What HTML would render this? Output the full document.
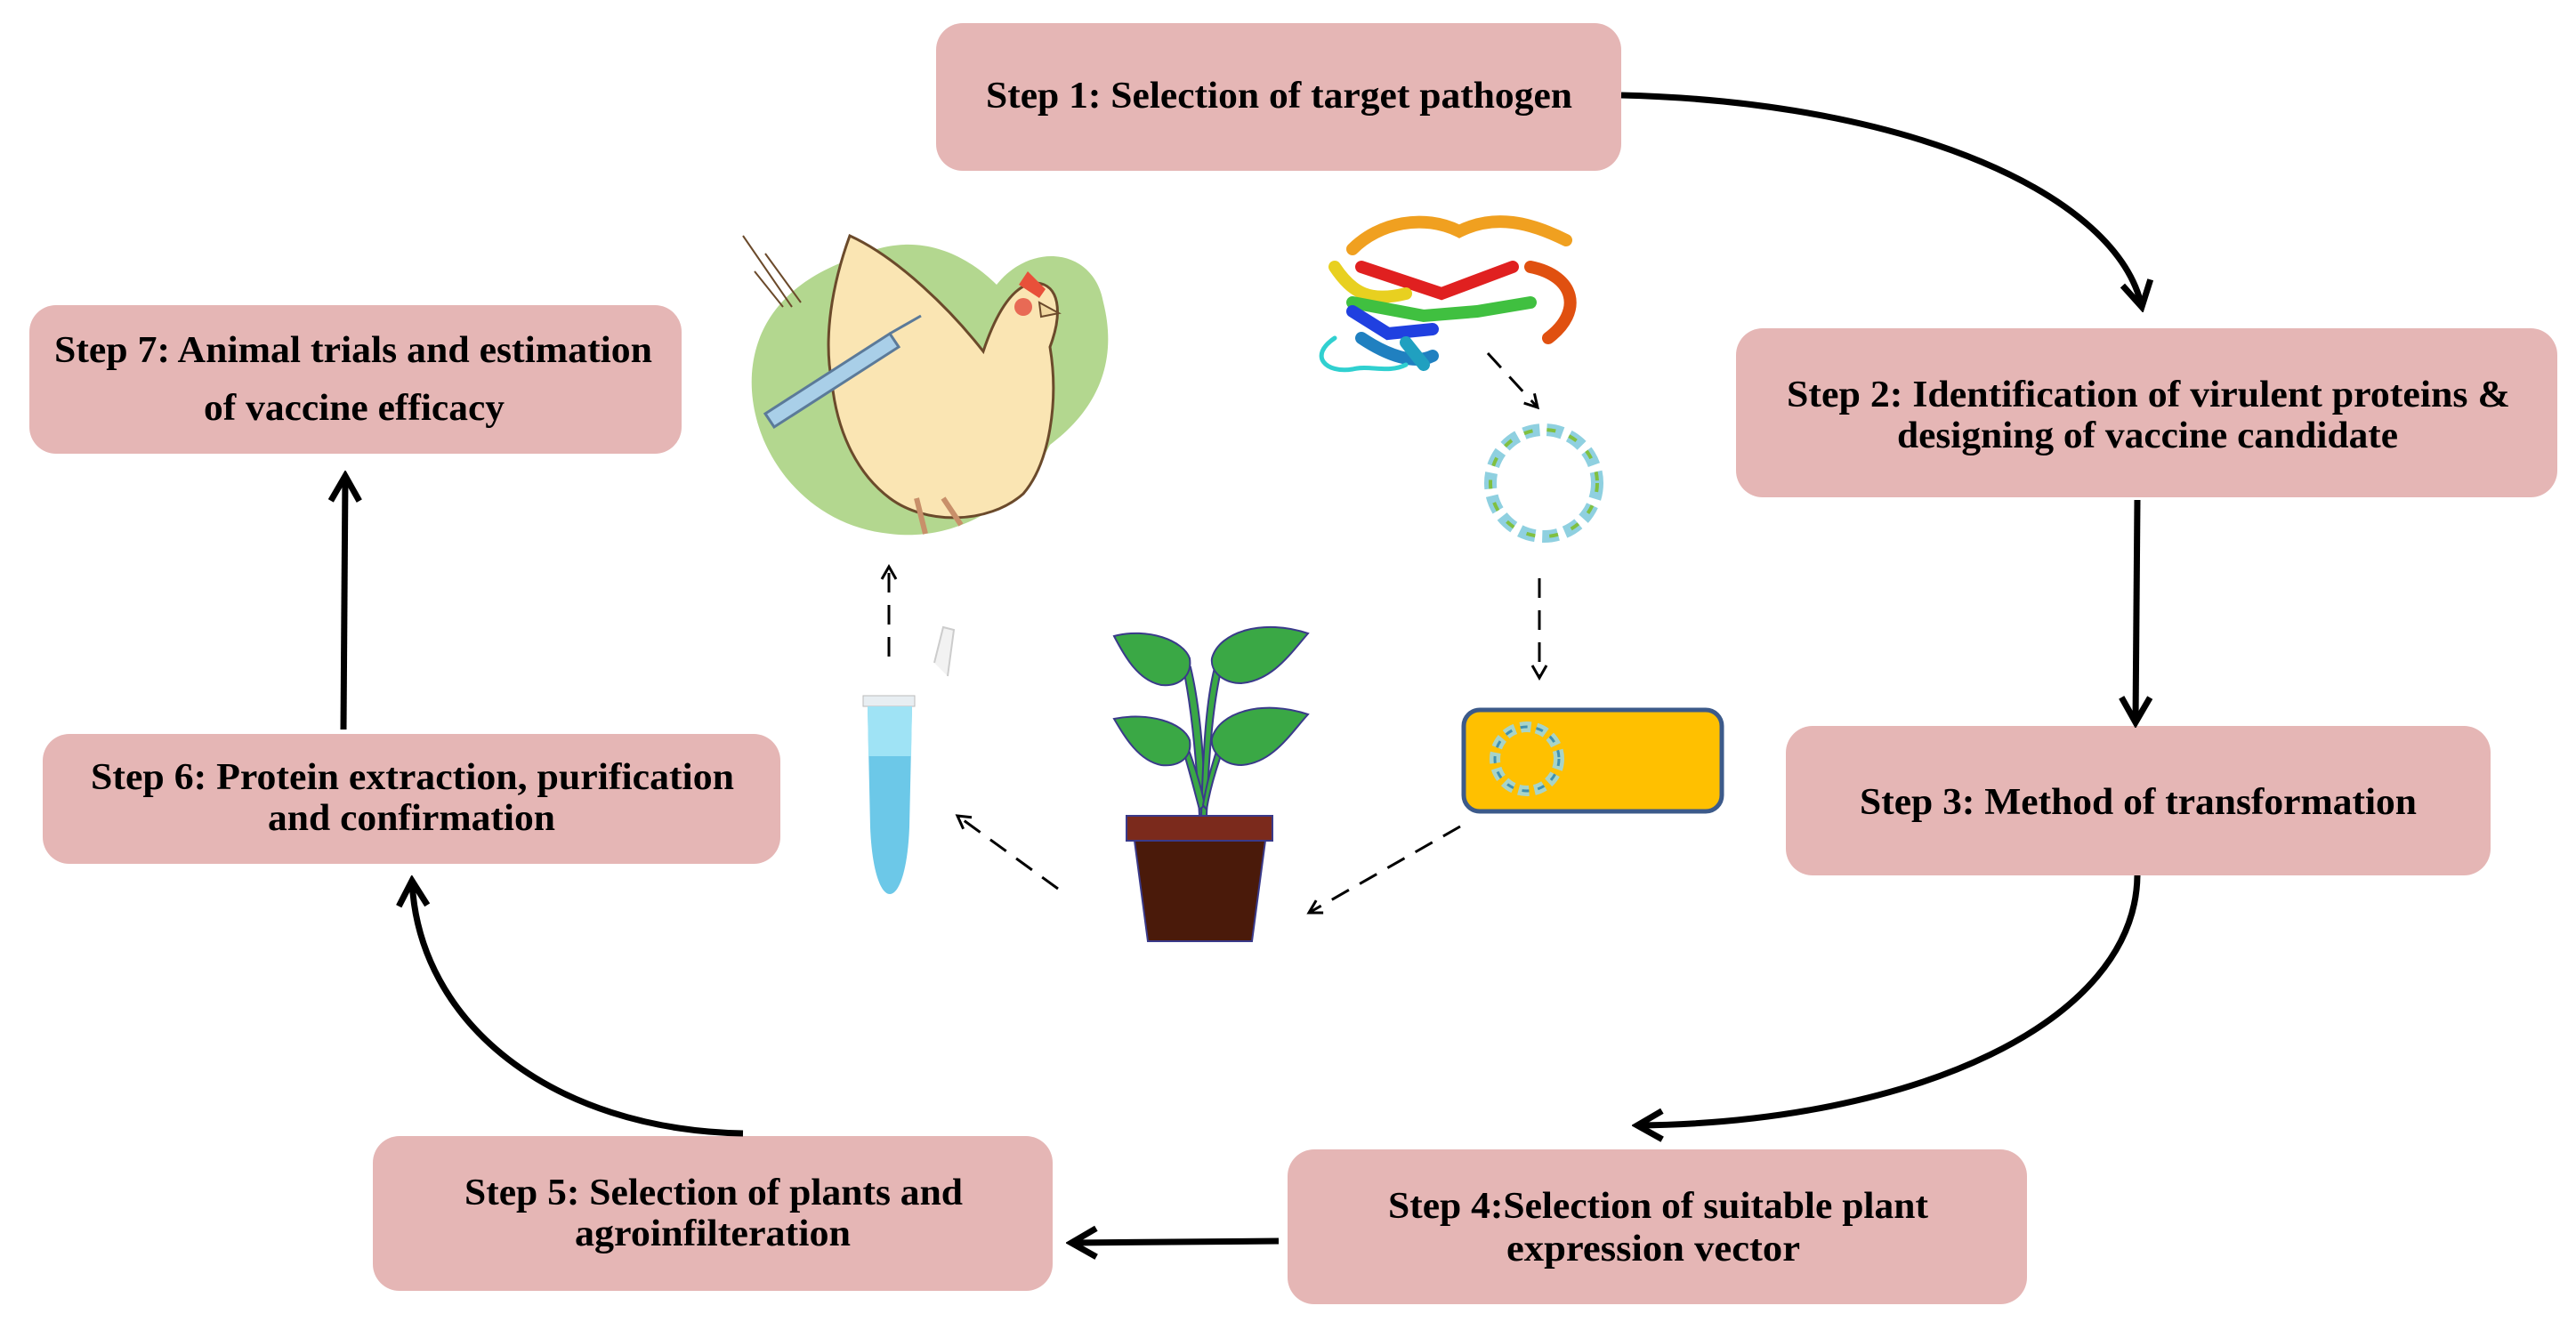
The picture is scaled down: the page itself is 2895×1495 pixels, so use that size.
<!DOCTYPE html>
<html><head><meta charset="utf-8"><style>
html,body{margin:0;padding:0;background:#fff;}
svg{display:block;}
text{font-family:"Liberation Serif",serif;font-weight:bold;font-size:42px;fill:#000;}
</style></head><body>
<svg width="2895" height="1495" viewBox="0 0 2895 1495" xmlns="http://www.w3.org/2000/svg">
<defs>
<marker id="ah" viewBox="0 0 20 20" refX="16" refY="10" markerWidth="20" markerHeight="20" markerUnits="userSpaceOnUse" orient="auto">
<path d="M2,2 L16,10 L2,18" fill="none" stroke="#000" stroke-width="3"/></marker>
<marker id="AH" viewBox="0 0 40 40" refX="34" refY="20" markerWidth="40" markerHeight="40" markerUnits="userSpaceOnUse" orient="auto">
<path d="M6,4 L34,20 L6,36" fill="none" stroke="#000" stroke-width="7"/></marker>
</defs>

<g fill="#e5b6b5">
<rect x="1052" y="26" width="770" height="166" rx="30"/>
<rect x="1951" y="369" width="923" height="190" rx="30"/>
<rect x="2007" y="816" width="792" height="168" rx="30"/>
<rect x="1447" y="1292" width="831" height="174" rx="30"/>
<rect x="419" y="1277" width="764" height="174" rx="30"/>
<rect x="48" y="825" width="829" height="146" rx="30"/>
<rect x="33" y="343" width="733" height="167" rx="30"/>
</g>

<text x="1108" y="121" textLength="659" lengthAdjust="spacingAndGlyphs">Step 1: Selection of target pathogen</text>
<text x="2008" y="457" textLength="813" lengthAdjust="spacingAndGlyphs">Step 2: Identification of virulent proteins &amp;</text>
<text x="2132" y="503" textLength="563" lengthAdjust="spacingAndGlyphs">designing of vaccine candidate</text>
<text x="2090" y="915" textLength="626" lengthAdjust="spacingAndGlyphs">Step 3: Method of transformation</text>
<text x="1560" y="1369" textLength="607" lengthAdjust="spacingAndGlyphs">Step 4:Selection of suitable plant</text>
<text x="1693" y="1417" textLength="330" lengthAdjust="spacingAndGlyphs">expression vector</text>
<text x="522" y="1354" textLength="560" lengthAdjust="spacingAndGlyphs">Step 5: Selection of plants and</text>
<text x="646" y="1400" textLength="310" lengthAdjust="spacingAndGlyphs">agroinfilteration</text>
<text x="102" y="887" textLength="723" lengthAdjust="spacingAndGlyphs">Step 6: Protein extraction, purification</text>
<text x="301" y="933" textLength="323" lengthAdjust="spacingAndGlyphs">and confirmation</text>
<text x="61" y="407" textLength="672" lengthAdjust="spacingAndGlyphs">Step 7: Animal trials and estimation</text>
<text x="229" y="472" textLength="338" lengthAdjust="spacingAndGlyphs">of vaccine efficacy</text>

<g fill="none" stroke="#000" stroke-width="7">
<path d="M1822,107 C2150,115 2380,220 2407,345" marker-end="url(#AH)"/>
<path d="M2402,562 L2400,812" marker-end="url(#AH)"/>
<path d="M2402,984 C2400,1150 2150,1262 1840,1265" marker-end="url(#AH)"/>
<path d="M1437,1395 L1204,1397" marker-end="url(#AH)"/>
<path d="M835,1274 C620,1270 470,1150 463,990" marker-end="url(#AH)"/>
<path d="M386,820 L388,535" marker-end="url(#AH)"/>
</g>

<g fill="none" stroke="#000" stroke-width="3" stroke-dasharray="22,14">
<path d="M1672,397 L1728,458" marker-end="url(#ah)"/>
<path d="M1730,650 L1730,762" marker-end="url(#ah)"/>
<path d="M1641,929 L1471,1026" marker-end="url(#ah)"/>
<path d="M1189,999 L1076,917" marker-end="url(#ah)"/>
<path d="M999,738 L999,637" marker-end="url(#ah)"/>
</g>

<!-- chicken -->
<g>
<path d="M960,290 C1040,250 1100,300 1120,320 C1160,270 1230,280 1240,340 C1260,420 1220,470 1180,500 C1150,560 1080,610 1000,600 C900,590 840,500 845,420 C850,350 900,310 960,290Z" fill="#b3d78f"/>
<path d="M955,265 C1010,290 1070,350 1105,395 C1120,350 1140,318 1165,318 C1190,320 1195,350 1180,390 C1190,450 1180,520 1150,555 C1110,590 1040,590 1000,560 C960,530 940,480 935,430 C925,380 935,320 955,265Z" fill="#fae5b3" stroke="#6b4a2b" stroke-width="3"/>
<path d="M1145,320 L1155,305 L1165,315 L1175,325 L1168,335Z" fill="#e8503a"/>
<circle cx="1150" cy="345" r="10" fill="#e86a55"/>
<path d="M1168,340 L1190,352 L1170,356Z" fill="#f1d8a0" stroke="#6b4a2b" stroke-width="2"/>
<path d="M1030,560 L1040,600 M1060,560 L1080,590" stroke="#c8906a" stroke-width="6" fill="none"/>
<path d="M860,465 L1000,375 L1010,390 L870,480Z" fill="#a9cfe8" stroke="#5b7a99" stroke-width="3"/>
<path d="M1000,375 L1035,355" stroke="#5b7a99" stroke-width="3"/>
<path d="M835,265 L890,345 M860,285 L900,340 M848,305 L880,345" stroke="#6b4a2b" stroke-width="2"/>
</g>

<g fill="none" stroke-width="14" stroke-linecap="round">
<path d="M1520,280 C1550,250 1600,240 1640,260 C1680,240 1720,250 1760,270" stroke="#f0a020"/>
<path d="M1530,300 L1620,330 L1700,300" stroke="#e02020"/>
<path d="M1500,300 C1520,330 1540,340 1580,330" stroke="#e8d020"/>
<path d="M1520,340 L1600,355 L1660,350 L1720,340" stroke="#40c040"/>
<path d="M1520,350 L1560,375 L1610,370" stroke="#2040e0"/>
<path d="M1720,300 C1770,310 1780,350 1740,380" stroke="#e05010"/>
<path d="M1530,380 C1560,400 1590,410 1610,400" stroke="#2080c0"/>
<path d="M1500,380 C1470,400 1490,420 1520,415 C1540,410 1560,420 1580,410" stroke="#30d0d0" stroke-width="5"/>
<path d="M1580,385 L1600,410" stroke="#20a0c0"/>
</g>

<circle cx="1735" cy="543" r="60" fill="none" stroke="#8fd0e0" stroke-width="14" stroke-dasharray="18,8"/>
<circle cx="1735" cy="543" r="60" fill="none" stroke="#80c040" stroke-width="4" stroke-dasharray="10,16"/>

<rect x="1645" y="798" width="290" height="114" rx="18" fill="#ffc000" stroke="#3c5a8a" stroke-width="5"/>
<circle cx="1716" cy="853" r="36" fill="none" stroke="#a8d4c8" stroke-width="12" stroke-dasharray="12,6"/>
<circle cx="1716" cy="853" r="36" fill="none" stroke="#4090b0" stroke-width="3" stroke-dasharray="8,10"/>

<g stroke="#3a3a8a" stroke-width="2">
<path d="M1348,917 C1345,860 1340,800 1330,752 L1338,750 C1350,800 1353,860 1355,917Z" fill="#3aa845"/>
<path d="M1350,917 C1352,850 1355,780 1368,740 L1375,742 C1362,790 1358,860 1356,917Z" fill="#3aa845"/>
<path d="M1348,910 C1340,880 1335,860 1330,845 L1336,843 C1344,865 1350,885 1354,905Z" fill="#3aa845"/>
<path d="M1352,905 C1356,880 1362,860 1370,835 L1376,838 C1368,860 1360,885 1356,910Z" fill="#3aa845"/>
<path d="M1252,715 C1290,705 1330,720 1337,740 C1340,760 1325,772 1305,770 C1280,765 1265,740 1252,715Z" fill="#3aa845"/>
<path d="M1362,740 C1370,710 1420,695 1470,712 C1450,735 1430,765 1395,768 C1375,768 1360,755 1362,740Z" fill="#3aa845"/>
<path d="M1252,808 C1290,800 1330,812 1337,832 C1340,852 1325,862 1305,860 C1280,855 1265,830 1252,808Z" fill="#3aa845"/>
<path d="M1362,830 C1370,800 1420,786 1470,803 C1450,825 1430,858 1395,860 C1375,860 1360,845 1362,830Z" fill="#3aa845"/>
<path d="M1266,917 L1430,917 L1430,945 L1266,945Z" fill="#7b2a1c"/>
<path d="M1275,945 L1422,945 L1407,1058 L1290,1058Z" fill="#4a1a0a"/>
</g>

<g>
<path d="M1050,745 L1060,705 L1072,708 L1065,760" fill="#f2f2f2" stroke="#ccc" stroke-width="2"/>
<rect x="970" y="782" width="58" height="12" fill="#e8eef2" stroke="#bbb"/>
<path d="M975,794 L1025,794 L1022,930 C1020,980 1010,1005 1000,1005 C990,1005 980,980 978,930Z" fill="#6cc8e8"/>
<path d="M975,794 L1025,794 L1024,850 L976,850Z" fill="#9fe3f5"/>
</g>
</svg>
</body></html>
